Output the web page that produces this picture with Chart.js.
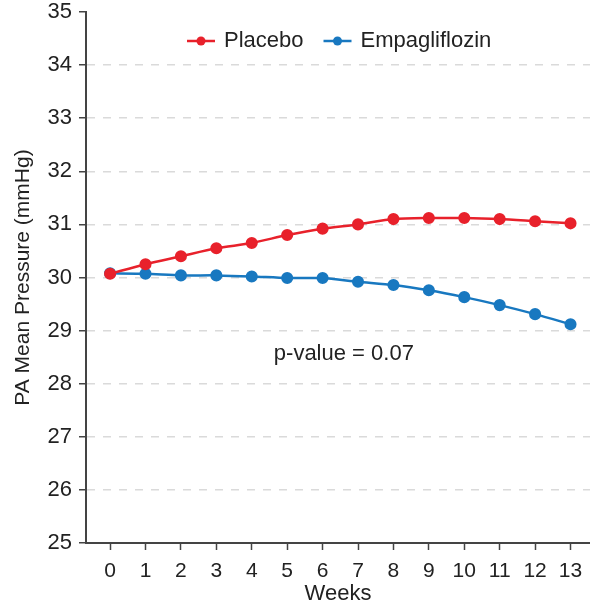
<!DOCTYPE html>
<html>
<head>
<meta charset="utf-8">
<script src="https://cdn.jsdelivr.net/npm/chart.js@4.4.1/dist/chart.umd.min.js"></script>
<style>
  html, body { margin: 0; padding: 0; background: #fff; }
  #wrap { width: 590px; height: 606px; }
</style>
</head>
<body>
<div id="wrap"><canvas id="chart" width="590" height="606"></canvas></div>
<script>
// weeks on the x axis
const weeks = [0, 1, 2, 3, 4, 5, 6, 7, 8, 9, 10, 11, 12, 13];

// PA mean pressure (mmHg)
const placebo = [30.07, 30.25, 30.40, 30.55, 30.65, 30.80, 30.92, 31.00, 31.10, 31.12, 31.12, 31.10, 31.06, 31.02];
const empagliflozin = [30.08, 30.07, 30.04, 30.04, 30.02, 29.99, 29.99, 29.92, 29.86, 29.76, 29.63, 29.48, 29.31, 29.12];

const yTicks = [25, 26, 27, 28, 29, 30, 31, 32, 33, 34, 35];
const pValueText = 'p-value = 0.07';

const RED = '#e8212b';
const BLUE = '#1878c0';
const FONT = "'Liberation Sans', Arial, sans-serif";
const FS = 21;

const toPoints = vals => vals.map((v, i) => ({ x: weeks[i], y: v }));

// legend drawn inside the plot area, line + dot like the original
const insideLegend = {
    id: 'insideLegend',
    afterDatasetsDraw(chart) {
        const ctx = chart.ctx;
        const items = chart.data.datasets;
        ctx.save();
        ctx.font = '22px ' + FONT;
        ctx.textBaseline = 'middle';
        const lineW = 28, gap = 9, between = 20;
        let x = 187;
        const y = 41;
        items.forEach(d => {
            ctx.strokeStyle = d.borderColor;
            ctx.lineWidth = 2.5;
            ctx.beginPath();
            ctx.moveTo(x, y);
            ctx.lineTo(x + lineW, y);
            ctx.stroke();
            ctx.fillStyle = d.borderColor;
            ctx.beginPath();
            ctx.arc(x + lineW / 2, y, 4.5, 0, Math.PI * 2);
            ctx.fill();
            x += lineW + gap;
            ctx.fillStyle = '#222';
            ctx.fillText(d.label, x, y);
            x += ctx.measureText(d.label).width + between;
        });
        ctx.restore();
    }
};

// p-value note placed in data coordinates
const pNote = {
    id: 'pNote',
    afterDatasetsDraw(chart) {
        const ctx = chart.ctx;
        const xs = chart.scales.x, ys = chart.scales.y;
        ctx.save();
        ctx.font = '22px ' + FONT;
        ctx.fillStyle = '#222';
        ctx.textAlign = 'center';
        ctx.textBaseline = 'middle';
        ctx.fillText(pValueText, xs.getPixelForValue(6.6), ys.getPixelForValue(28.56));
        ctx.restore();
    }
};

new Chart('chart', {
    type: 'line',
    data: {
        datasets: [
            {
                label: 'Placebo',
                data: toPoints(placebo),
                borderColor: RED,
                backgroundColor: RED,
                borderWidth: 2.5,
                pointRadius: 4.8,
                pointHoverRadius: 4.8,
                tension: 0.25
            },
            {
                label: 'Empagliflozin',
                data: toPoints(empagliflozin),
                borderColor: BLUE,
                backgroundColor: BLUE,
                borderWidth: 2.5,
                pointRadius: 4.8,
                pointHoverRadius: 4.8,
                tension: 0.25
            }
        ]
    },
    options: {
        responsive: false,
        animation: false,
        events: [],
        layout: { autoPadding: false, padding: { top: 12, right: 0, left: 0, bottom: 0 } },
        plugins: {
            legend: { display: false },
            tooltip: { enabled: false }
        },
        scales: {
            x: {
                type: 'linear',
                min: -0.68,
                max: 13.55,
                afterBuildTicks: axis => { axis.ticks = weeks.map(v => ({ value: v })); },
                afterFit: axis => {
                    // let the axis run to the canvas edge like the original
                    axis.height = 63;
                    axis.paddingRight = 0;
                    axis.paddingLeft = 0;
                },
                grid: {
                    drawOnChartArea: false,
                    drawTicks: true,
                    tickLength: 7,
                    tickColor: '#444',
                    tickWidth: 1.5
                },
                border: { color: '#444', width: 2 },
                ticks: {
                    autoSkip: false,
                    maxRotation: 0,
                    padding: 9,
                    color: '#222',
                    font: { family: FONT, size: FS }
                },
                title: {
                    display: true,
                    text: 'Weeks',
                    color: '#222',
                    padding: { top: 0, bottom: -1 },
                    font: { family: FONT, size: 22 }
                }
            },
            y: {
                min: 25,
                max: 35,
                afterBuildTicks: axis => { axis.ticks = yTicks.map(v => ({ value: v })); },
                afterFit: axis => { axis.width = 86; axis.paddingTop = 0; axis.paddingBottom = 0; },
                grid: {
                    color: ctx => (ctx.tick && (ctx.tick.value === 25 || ctx.tick.value === 35)) ? 'rgba(0,0,0,0)' : '#dadada',
                    lineWidth: 1.5,
                    drawTicks: true,
                    tickLength: 7,
                    tickColor: '#444',
                    tickWidth: 1.5,
                    tickBorderDash: []
                },
                border: { color: '#444', width: 2, dash: [8, 8] },
                ticks: {
                    padding: 7,
                    color: '#222',
                    font: { family: FONT, size: 22 }
                },
                title: {
                    display: true,
                    text: 'PA Mean Pressure (mmHg)',
                    color: '#222',
                    padding: { top: 11, bottom: 0 },
                    font: { family: FONT, size: 21 }
                }
            }
        }
    },
    plugins: [insideLegend, pNote]
});
</script>
</body>
</html>
